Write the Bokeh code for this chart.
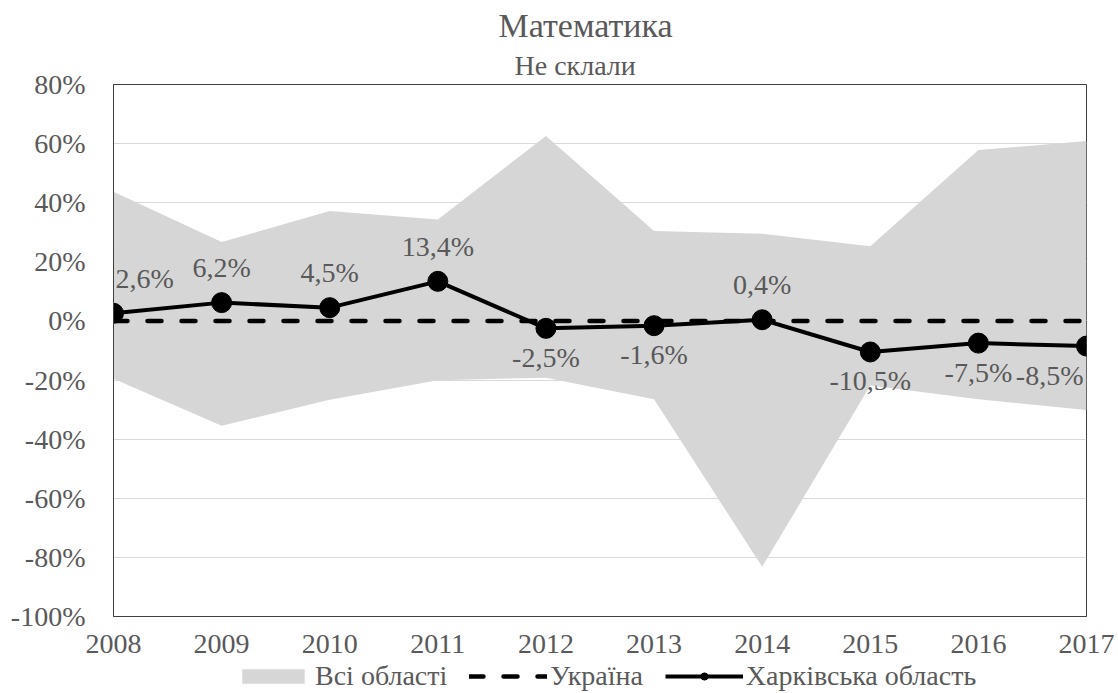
from bokeh.plotting import figure
from bokeh.layouts import column
from bokeh.models import (FixedTicker, PrintfTickFormatter, Legend, LegendItem, Title,
                          ColumnDataSource, Range1d)
from bokeh.embed import file_html
from bokeh.resources import INLINE
from bokeh.core.properties import value

# ---- data ----
years = [2008, 2009, 2010, 2011, 2012, 2013, 2014, 2015, 2016, 2017]
band_upper = [43.7, 26.7, 37.2, 34.3, 62.6, 30.4, 29.5, 25.3, 57.8, 60.9]
band_lower = [-19.6, -35.5, -26.7, -20.1, -19.2, -26.5, -83.2, -21.8, -26.5, -30.1]
ukraine = [0, 0, 0, 0, 0, 0, 0, 0, 0, 0]
kharkiv = [2.6, 6.2, 4.5, 13.4, -2.5, -1.6, 0.4, -10.5, -7.5, -8.5]
y_ticks = [-100, -80, -60, -40, -20, 0, 20, 40, 60, 80]
title_text = "Математика"
subtitle_text = "Не склали"
legend_labels = ["Всі області", "Україна", "Харківська область"]

FONT = "Liberation Serif"
TXT = "#595959"
BAND = "#d6d6d6"

p = figure(width=1116, height=660, title=None,
           x_range=Range1d(years[0], years[-1]), y_range=Range1d(y_ticks[0], y_ticks[-1]),
           output_backend="svg", toolbar_location=None,
           min_border_left=113, min_border_right=30, min_border_top=84, min_border_bottom=44)

band = p.varea(x=years, y1=band_lower, y2=band_upper, fill_color=BAND)
ua = p.line(x=years, y=ukraine, line_color="black", line_width=4.5,
            line_dash="14 20", line_cap="round")
kh_line = p.line(x=years, y=kharkiv, line_color="black", line_width=4)
kh_pts = p.scatter(x=years, y=kharkiv, size=20, fill_color="black", line_color="black")

# data labels
n = len(kharkiv)
lbl = ColumnDataSource(dict(
    x=years, y=kharkiv,
    text=[("%.1f%%" % v).replace(".", ",") for v in kharkiv],
    yoff=[-35 if v >= 0 else 29 for v in kharkiv],
    xoff=[2] + [0] * (n - 2) + [-3],
    align=["left"] + ["center"] * (n - 2) + ["right"],
))
p.text(x="x", y="y", text="text", x_offset="xoff", y_offset="yoff", text_align="align",
       text_baseline="middle", text_font=value(FONT), text_font_size="28px",
       text_color=TXT, source=lbl)

# axes
p.xaxis.ticker = FixedTicker(ticks=years)
p.yaxis.ticker = FixedTicker(ticks=y_ticks)
p.yaxis.formatter = PrintfTickFormatter(format="%d%%")
for ax in (p.xaxis, p.yaxis):
    ax.major_tick_line_color = None
    ax.minor_tick_line_color = None
    ax.axis_line_color = "#404040"
    ax.major_label_text_font = FONT
    ax.major_label_text_font_size = "28px"
    ax.major_label_text_color = TXT
p.xaxis.major_label_standoff = 12
p.yaxis.major_label_standoff = 22
p.xgrid.grid_line_color = None
p.ygrid.ticker = FixedTicker(ticks=y_ticks)
p.ygrid.grid_line_color = "#d9d9d9"
p.outline_line_color = "#404040"
p.outline_line_alpha = 1

# titles
p.add_layout(Title(text=subtitle_text, align="left", offset=401, standoff=8,
                   text_font=FONT, text_font_size="28px", text_font_style="normal",
                   text_color=TXT), "above")
p.add_layout(Title(text=title_text, align="left", offset=385, standoff=0,
                   text_font=FONT, text_font_size="34px", text_font_style="normal",
                   text_color=TXT), "above")

# legend strip under the chart (series drawn out of its view, only the legend shows)
lg = figure(width=1116, height=32, title=None, x_range=Range1d(0, 1), y_range=Range1d(0, 1),
            x_axis_type=None, y_axis_type=None, output_backend="svg", toolbar_location=None,
            min_border_left=113, min_border_right=30, min_border_top=0, min_border_bottom=0,
            outline_line_color=None)
lg.grid.visible = False
l_band = lg.varea(x=years, y1=band_lower, y2=band_upper, fill_color=BAND)
l_ua = lg.line(x=years, y=ukraine, line_color="black", line_width=4.5, line_dash="14 20",
               line_cap="round")
l_kh = lg.line(x=years, y=kharkiv, line_color="black", line_width=4)
l_pt = lg.scatter(x=years, y=kharkiv, size=20, fill_color="black", line_color="black")
legend = Legend(items=[LegendItem(label=legend_labels[0], renderers=[l_band]),
                       LegendItem(label=legend_labels[1], renderers=[l_ua]),
                       LegendItem(label=legend_labels[2], renderers=[l_kh, l_pt])],
                orientation="horizontal", location=(121, 0),
                border_line_color=None, background_fill_alpha=0,
                label_text_font=FONT, label_text_font_size="28px", label_text_color=TXT,
                glyph_width=78, glyph_height=18, label_standoff=3, spacing=22,
                padding=0, margin=0)
lg.add_layout(legend)

layout = column(p, lg, spacing=0)
open("out.html", "w").write(file_html(layout, INLINE))
